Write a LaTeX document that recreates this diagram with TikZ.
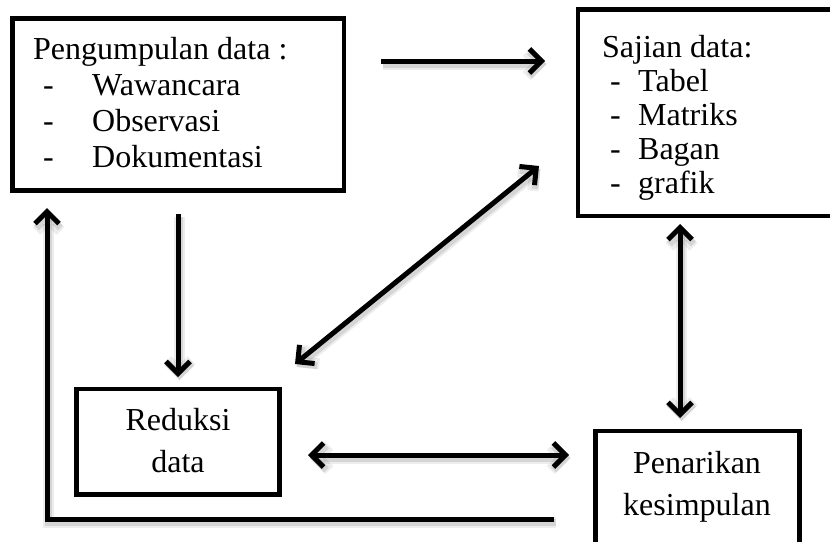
\documentclass[tikz,border=0pt]{standalone}
\usepackage{fontspec}
\setmainfont{Liberation Serif}
\usetikzlibrary{arrows.meta}
\tikzset{
  box/.style={draw, line width=4.5pt, rectangle, inner sep=0pt},
  label/.style={inner sep=0pt, font=\fontsize{32}{36}\selectfont},
  softshade/.style={
    preaction={draw=black, draw opacity=0.07, line width=11pt,
      transform canvas={shift={(1.5pt,-3pt)}}},
    preaction={draw=black, draw opacity=0.10, line width=7pt,
      transform canvas={shift={(1.5pt,-3pt)}}}},
  conn/.style={line width=5pt, softshade},
  >={Straight Barb[length=12pt,width=24pt]},
}
\newcommand{\dashitem}[3]{\hspace*{#1}\makebox[#2][l]{-}#3}
\begin{document}
\begin{tikzpicture}[x=1pt,y=-1pt]
  \useasboundingbox (0,0) rectangle (830,541);

  % boxes
  \node[box, minimum width=331.5pt, minimum height=172pt] (A) at (178.25,104.5) {};
  \node[box, minimum width=262pt, minimum height=206.5pt] (B) at (709,112.75) {};
  \node[box, minimum width=203pt, minimum height=105.5pt] (C) at (178,441.75) {};
  \node[box, minimum width=204pt, minimum height=129pt] (D) at (697.5,495.5) {};

  % texts
  \node[label, anchor=base west] (At) at (33,59) {%
    \fontsize{32}{36}\selectfont
    \begin{tabular}[t]{@{}l@{}}
      Pengumpulan data :\\
      \dashitem{10pt}{49pt}{Wawancara}\\
      \dashitem{10pt}{49pt}{Observasi}\\
      \dashitem{10pt}{49pt}{Dokumentasi}
    \end{tabular}};
  \node[label, anchor=base west] (Bt) at (602,57) {%
    \fontsize{32}{34}\selectfont
    \begin{tabular}[t]{@{}l@{}}
      Sajian data:\\
      \dashitem{8pt}{28pt}{Tabel}\\
      \dashitem{8pt}{28pt}{Matriks}\\
      \dashitem{8pt}{28pt}{Bagan}\\
      \dashitem{8pt}{28pt}{grafik}
    \end{tabular}};
  \node[label, anchor=base] (Ct) at (178,430) {%
    \fontsize{32}{42}\selectfont
    \begin{tabular}[t]{@{}c@{}}Reduksi\\ data\end{tabular}};
  \node[label, anchor=base] (Dt) at (697,473) {%
    \fontsize{32}{42}\selectfont
    \begin{tabular}[t]{@{}c@{}}Penarikan\\ kesimpulan\end{tabular}};

  % connector end points
  \coordinate (ab1) at (381,61);   \coordinate (ab2) at (545,61);
  \coordinate (ac1) at (178,214);  \coordinate (ac2) at (178,377);
  \coordinate (cb1) at (295,364);  \coordinate (cb2) at (539,166);
  \coordinate (bd1) at (680,224);  \coordinate (bd2) at (680,418);
  \coordinate (cd1) at (308,455);  \coordinate (cd2) at (569,455);
  \coordinate (fb1) at (554,519);  \coordinate (fb2) at (47,208);

  % connectors
  \draw[conn,->] (ab1) -- (ab2);
  \draw[conn,->] (ac1) -- (ac2);
  \draw[conn,<->] (cb1) -- (cb2);
  \draw[conn,<->] (bd1) -- (bd2);
  \draw[conn,<->] (cd1) -- (cd2);
  \draw[conn,->] (fb1) -| (fb2);
\end{tikzpicture}
\end{document}
